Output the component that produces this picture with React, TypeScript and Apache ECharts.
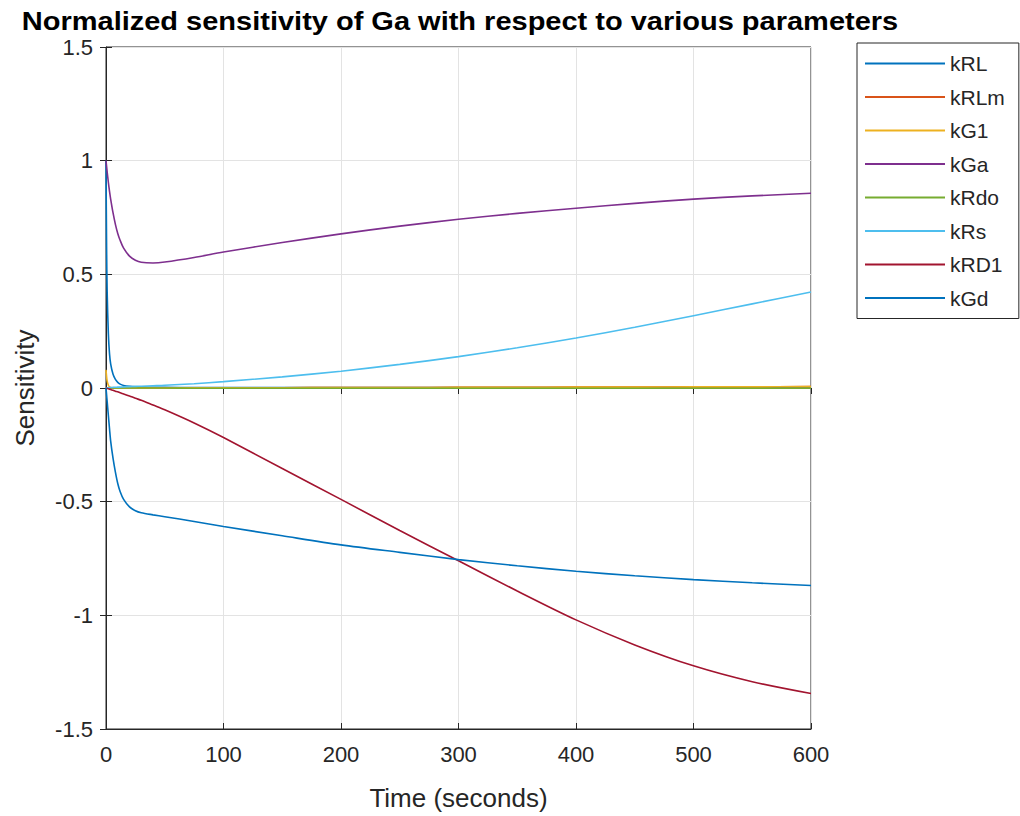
import React, { useEffect, useRef } from "react";
import * as echarts from "echarts";

const time = [0, 0.5, 1, 2, 3, 4, 6, 8, 10, 12, 15, 20, 25, 30, 40, 50, 75, 100, 150, 200, 250, 300, 350, 400, 450, 500, 550, 600];

const kRL = [1, 0.62, 0.42, 0.24, 0.15, 0.105, 0.06, 0.038, 0.025, 0.017, 0.011, 0.007, 0.005, 0.004, 0.003, 0.003, 0.002, 0.002, 0.002, 0.002, 0.002, 0.002, 0.002, 0.002, 0.002, 0.002, 0.002, 0.002];
const kRLm = [0, 0, 0, 0, 0, 0, 0, 0, 0, 0, 0, 0, 0, 0, 0, 0, 0.001, 0.001, 0.001, 0.002, 0.002, 0.003, 0.003, 0.004, 0.004, 0.005, 0.005, 0.006];
const kG1 = [0.08, 0.05, 0.03, 0.012, 0.005, 0.002, 0.001, 0, 0, 0, 0, 0, 0, 0, 0, 0, 0.001, 0.001, 0.001, 0.002, 0.002, 0.003, 0.003, 0.004, 0.004, 0.005, 0.005, 0.006];
const kGa = [1, 0.975, 0.95, 0.905, 0.865, 0.83, 0.77, 0.72, 0.68, 0.65, 0.615, 0.58, 0.562, 0.553, 0.55, 0.554, 0.574, 0.598, 0.64, 0.678, 0.712, 0.742, 0.768, 0.791, 0.812, 0.831, 0.845, 0.857];
const kRdo = [0, 0, 0, 0, 0, 0, 0, 0, 0, 0, 0, 0, 0, 0, 0, 0, -0.001, -0.001, -0.001, -0.001, -0.001, -0.001, -0.001, -0.001, -0.001, -0.001, -0.001, -0.001];
const kRs = [0, 0, 0.001, 0.001, 0.002, 0.002, 0.003, 0.003, 0.004, 0.004, 0.005, 0.006, 0.007, 0.008, 0.01, 0.012, 0.019, 0.028, 0.049, 0.074, 0.104, 0.138, 0.177, 0.22, 0.267, 0.318, 0.37, 0.422];
const kRD1 = [0, -0.001, -0.002, -0.003, -0.005, -0.007, -0.01, -0.014, -0.017, -0.021, -0.026, -0.035, -0.045, -0.054, -0.075, -0.096, -0.154, -0.218, -0.354, -0.49, -0.627, -0.76, -0.893, -1.02, -1.13, -1.222, -1.292, -1.344];
const kGd = [0, -0.03, -0.06, -0.12, -0.18, -0.235, -0.31, -0.37, -0.42, -0.455, -0.49, -0.523, -0.54, -0.549, -0.558, -0.566, -0.587, -0.609, -0.65, -0.69, -0.723, -0.755, -0.782, -0.806, -0.826, -0.843, -0.857, -0.869];

const seriesNames = ["kRL", "kRLm", "kG1", "kGa", "kRdo", "kRs", "kRD1", "kGd"];
const seriesValues = [kRL, kRLm, kG1, kGa, kRdo, kRs, kRD1, kGd];
const colors = ["#0072BD", "#D95319", "#EDB120", "#7E2F8E", "#77AC30", "#4DBEEE", "#A2142F", "#0072BD"];

const titleText = "Normalized sensitivity of Ga with respect to various parameters";
const xName = "Time (seconds)";
const yName = "Sensitivity";

const FONT = "'Liberation Sans', Arial, Helvetica, sans-serif";
const TXT = "#262626";

export default function App() {
  const ref = useRef<HTMLDivElement>(null);
  useEffect(() => {
    if (!ref.current) return;
    const chart = echarts.init(ref.current, null, { renderer: "svg" });
    const tickCommon = { show: true, inside: true, length: 6, lineStyle: { color: TXT, width: 1 } };
    chart.setOption({
      animation: false,
      backgroundColor: "#ffffff",
      textStyle: { fontFamily: FONT },
      graphic: [
        {
          type: "text",
          x: 460,
          y: 21,
          scaleX: 1.16,
          style: {
            text: titleText,
            font: `bold 25px ${FONT}`,
            fill: "#000000",
            textAlign: "center",
            textVerticalAlign: "middle",
          },
        },
      ],
      grid: {
        left: 106,
        right: 209,
        top: 47,
        bottom: 84,
        show: true,
        borderColor: TXT,
        borderWidth: 1,
        backgroundColor: "#ffffff",
      },
      legend: {
        orient: "vertical",
        left: 857,
        top: 43,
        padding: [10, 14, 10, 7],
        itemWidth: 80,
        itemHeight: 14,
        itemGap: 12.5,
        borderColor: TXT,
        borderWidth: 1,
        backgroundColor: "#ffffff",
        itemStyle: { opacity: 0 },
        textStyle: { fontSize: 21, color: TXT, fontFamily: FONT },
        data: seriesNames,
      },
      xAxis: [
        {
          type: "value",
          min: 0,
          max: 600,
          interval: 100,
          name: xName,
          nameLocation: "middle",
          nameGap: 56,
          nameTextStyle: { fontSize: 26, color: TXT, fontFamily: FONT },
          axisLine: { show: true, onZero: false, lineStyle: { color: TXT, width: 1 } },
          axisTick: tickCommon,
          axisLabel: { fontSize: 22, color: TXT, margin: 14, fontFamily: FONT },
          splitLine: { show: true, lineStyle: { color: "#e3e3e3", width: 1 } },
        },
        {
          type: "value",
          position: "top",
          min: 0,
          max: 600,
          interval: 100,
          axisLine: { show: false },
          axisTick: tickCommon,
          axisLabel: { show: false },
          splitLine: { show: false },
        },
      ],
      yAxis: [
        {
          type: "value",
          min: -1.5,
          max: 1.5,
          interval: 0.5,
          name: yName,
          nameLocation: "middle",
          nameGap: 68,
          nameTextStyle: { fontSize: 26, color: TXT, fontFamily: FONT },
          axisLine: { show: true, onZero: false, lineStyle: { color: TXT, width: 1 } },
          axisTick: tickCommon,
          axisLabel: { fontSize: 22, color: TXT, margin: 13, fontFamily: FONT },
          splitLine: { show: true, lineStyle: { color: "#e3e3e3", width: 1 } },
        },
        {
          type: "value",
          position: "right",
          min: -1.5,
          max: 1.5,
          interval: 0.5,
          axisLine: { show: false },
          axisTick: tickCommon,
          axisLabel: { show: false },
          splitLine: { show: false },
        },
      ],
      series: seriesNames.map((name, i) => ({
        name,
        type: "line",
        xAxisIndex: 0,
        yAxisIndex: 0,
        symbol: "none",
        smooth: 0.3,
        color: colors[i],
        lineStyle: { color: colors[i], width: 1.6 },
        data: time.map((t, j) => [t, seriesValues[i][j]]),
        z: 2 + i,
      })),
    });
    return () => chart.dispose();
  }, []);
  return <div ref={ref} style={{ width: 1020, height: 816, position: "absolute", left: 0, top: 0 }} />;
}
